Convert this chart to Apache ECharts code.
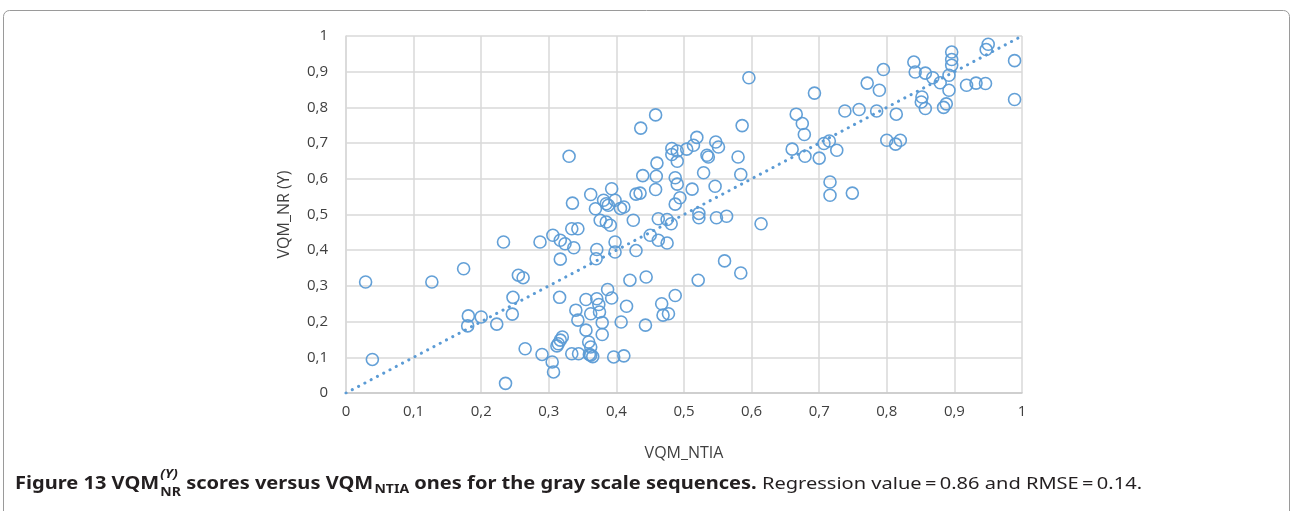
<!DOCTYPE html>
<html>
<head>
<meta charset="utf-8">
<script src="https://cdn.jsdelivr.net/npm/echarts@6/dist/echarts.min.js"></script>
<style>
  html, body { margin: 0; padding: 0; background: #ffffff; }
  #chart { width: 1294px; height: 511px; }
</style>
</head>
<body>
<div id="chart"></div>
<script>
// Tick labels (decimal comma)
const xTickLabels = ['0', '0,1', '0,2', '0,3', '0,4', '0,5', '0,6', '0,7', '0,8', '0,9', '1'];
const yTickLabels = ['0', '0,1', '0,2', '0,3', '0,4', '0,5', '0,6', '0,7', '0,8', '0,9', '1'];

// VQM_NTIA score of each gray scale sequence
const vqmNtia = [
  0.029, 0.039, 0.127, 0.174, 0.181, 0.180, 0.200, 0.223, 0.233, 0.236,
  0.247, 0.246, 0.255, 0.262, 0.265, 0.287, 0.290, 0.306, 0.305, 0.307,
  0.317, 0.324, 0.337, 0.317, 0.316, 0.320, 0.317, 0.314, 0.312, 0.334,
  0.343, 0.335, 0.330, 0.340, 0.343, 0.334, 0.344, 0.362, 0.369, 0.381,
  0.385, 0.388, 0.393, 0.398, 0.406, 0.411, 0.376, 0.385, 0.391, 0.425,
  0.371, 0.370, 0.398, 0.398, 0.429, 0.450, 0.462, 0.475, 0.462, 0.475,
  0.481, 0.522, 0.522, 0.548, 0.563, 0.614, 0.560, 0.584, 0.521, 0.420,
  0.444, 0.487, 0.467, 0.469, 0.477, 0.443, 0.415, 0.407, 0.396, 0.411,
  0.387, 0.393, 0.379, 0.379, 0.355, 0.371, 0.375, 0.362, 0.355, 0.359,
  0.362, 0.362, 0.365, 0.360, 0.374, 0.596, 0.458, 0.436, 0.586, 0.519,
  0.482, 0.490, 0.504, 0.514, 0.482, 0.490, 0.460, 0.547, 0.551, 0.534,
  0.536, 0.580, 0.584, 0.529, 0.546, 0.512, 0.487, 0.490, 0.459, 0.439,
  0.458, 0.494, 0.487, 0.435, 0.429, 0.666, 0.675, 0.678, 0.660, 0.679,
  0.693, 0.738, 0.759, 0.785, 0.814, 0.800, 0.813, 0.820, 0.707, 0.715,
  0.726, 0.700, 0.716, 0.716, 0.749, 0.771, 0.789, 0.795, 0.840, 0.842,
  0.857, 0.868, 0.879, 0.852, 0.851, 0.857, 0.884, 0.888, 0.892, 0.892,
  0.896, 0.896, 0.896, 0.918, 0.932, 0.946, 0.950, 0.947, 0.989, 0.989
];

// VQM_NR (Y) score of the same sequences
const vqmNr = [
  0.311, 0.094, 0.311, 0.348, 0.216, 0.188, 0.213, 0.193, 0.423, 0.027,
  0.268, 0.221, 0.330, 0.323, 0.124, 0.423, 0.108, 0.442, 0.087, 0.059,
  0.428, 0.418, 0.407, 0.375, 0.268, 0.157, 0.148, 0.138, 0.132, 0.460,
  0.460, 0.532, 0.663, 0.232, 0.204, 0.110, 0.110, 0.556, 0.516, 0.540,
  0.530, 0.526, 0.572, 0.540, 0.517, 0.521, 0.484, 0.479, 0.470, 0.484,
  0.402, 0.376, 0.423, 0.395, 0.399, 0.442, 0.428, 0.420, 0.488, 0.486,
  0.474, 0.503, 0.491, 0.491, 0.495, 0.474, 0.370, 0.336, 0.316, 0.316,
  0.325, 0.273, 0.250, 0.218, 0.222, 0.190, 0.243, 0.199, 0.101, 0.104,
  0.290, 0.266, 0.197, 0.164, 0.262, 0.264, 0.227, 0.222, 0.176, 0.143,
  0.129, 0.106, 0.102, 0.108, 0.248, 0.883, 0.779, 0.742, 0.749, 0.716,
  0.685, 0.678, 0.683, 0.694, 0.668, 0.649, 0.644, 0.703, 0.689, 0.666,
  0.661, 0.661, 0.612, 0.617, 0.579, 0.571, 0.603, 0.585, 0.607, 0.609,
  0.570, 0.547, 0.529, 0.560, 0.557, 0.781, 0.755, 0.724, 0.683, 0.663,
  0.840, 0.790, 0.794, 0.790, 0.781, 0.708, 0.697, 0.708, 0.699, 0.706,
  0.680, 0.658, 0.591, 0.554, 0.560, 0.868, 0.848, 0.906, 0.927, 0.899,
  0.896, 0.883, 0.869, 0.829, 0.815, 0.797, 0.800, 0.810, 0.890, 0.848,
  0.955, 0.934, 0.918, 0.862, 0.868, 0.867, 0.977, 0.962, 0.931, 0.822
];

// Linear trend line end points
const trendX = [0, 1];
const trendY = [0, 1];

const points = vqmNtia.map((x, i) => [x, vqmNr[i]]);
const trend = trendX.map((x, i) => [x, trendY[i]]);

const axisFont = '"Open Sans", "Noto Sans", sans-serif';
const labelColor = '#404040';
const gridColor = '#d9d9d9';
const markColor = '#5b9bd5';

// ---- Caption, laid out piece by piece with sub/superscripts ----
const capFont = '"Noto Sans", "Open Sans", sans-serif';
const capPieces = [
  { text: 'Figure 13 VQM', bold: true },
  { sup: '(Y)', sub: 'NR' },
  { text: ' scores versus VQM', bold: true },
  { sub: 'NTIA' },
  { text: ' ones for the gray scale sequences.', bold: true },
  { text: ' Regression value\u2009=\u20090.86 and RMSE\u2009=\u20090.14.', bold: false }
];
const measureCtx = document.createElement('canvas').getContext('2d');
function textWidth(str, size, bold, italic) {
  measureCtx.font = (italic ? 'italic ' : '') + (bold ? 'bold ' : '') + size + 'px ' + capFont;
  return measureCtx.measureText(str).width;
}
function captionElements(size) {
  const subSize = Math.round(size * 0.7 * 10) / 10;
  const els = [];
  let x = 0;
  capPieces.forEach(p => {
    if (p.text !== undefined) {
      els.push({ type: 'text', x: x, y: 0, silent: true, style: {
        text: p.text, fill: '#231f20', font: (p.bold ? 'bold ' : '') + size + 'px ' + capFont,
        verticalAlign: 'middle', align: 'left' } });
      x += textWidth(p.text, size, p.bold, false);
    } else {
      let w = 0;
      if (p.sup) {
        els.push({ type: 'text', x: x + 1, y: -9, silent: true, style: {
          text: p.sup, fill: '#231f20', font: 'italic bold ' + subSize + 'px ' + capFont,
          verticalAlign: 'middle', align: 'left' } });
        w = Math.max(w, textWidth(p.sup, subSize, true, true) + 1);
      }
      els.push({ type: 'text', x: x + 1, y: p.sup ? 9 : 6, silent: true, style: {
        text: p.sub, fill: '#231f20', font: 'bold ' + subSize + 'px ' + capFont,
        verticalAlign: 'middle', align: 'left' } });
      w = Math.max(w, textWidth(p.sub, subSize, true, false) + 1);
      x += w;
    }
  });
  return { els: els, width: x };
}
// a tall, condensed caption squeezed into the frame's text width
const capSize = 17;
const cap = captionElements(capSize);
const capScale = 1127 / cap.width;

const chart = echarts.init(document.getElementById('chart'), null, { renderer: 'canvas' });
chart.setOption({
  animation: false,
  backgroundColor: '#ffffff',
  grid: { left: 346, top: 36, width: 676, height: 357, containLabel: false },
  xAxis: {
    type: 'value', min: 0, max: 1, interval: 0.1,
    name: 'VQM_NTIA', nameLocation: 'middle', nameGap: 52,
    nameTextStyle: { color: labelColor, fontSize: 16, fontFamily: axisFont },
    axisLine: { show: true, lineStyle: { color: '#c9c9c9', width: 1.5 } },
    axisTick: { show: false },
    splitLine: { show: true, lineStyle: { color: gridColor, width: 1.5 } },
    axisLabel: { color: labelColor, fontSize: 15, fontFamily: axisFont, margin: 11,
      formatter: v => xTickLabels[Math.round(v * 10)] }
  },
  yAxis: {
    type: 'value', min: 0, max: 1, interval: 0.1,
    name: 'VQM_NR (Y)', nameLocation: 'middle', nameGap: 54,
    nameTextStyle: { color: labelColor, fontSize: 16, fontFamily: axisFont },
    axisLine: { show: true, lineStyle: { color: gridColor, width: 1.5 } },
    axisTick: { show: false },
    splitLine: { show: true, lineStyle: { color: gridColor, width: 1.5 } },
    axisLabel: { color: labelColor, fontSize: 15, fontFamily: axisFont, margin: 18,
      formatter: v => yTickLabels[Math.round(v * 10)] }
  },
  series: [
    {
      type: 'line', data: trend, symbol: 'none', silent: true, z: 2,
      lineStyle: { color: markColor, width: 3, type: [0.1, 7], cap: 'round' }
    },
    {
      type: 'scatter', data: points, symbol: 'circle', symbolSize: 12, silent: true, z: 3,
      itemStyle: { color: 'rgba(255,255,255,0)', borderColor: markColor, borderWidth: 1.6, opacity: 0.95 }
    }
  ],
  graphic: [
    { type: 'rect', silent: true, shape: { x: 3.5, y: 10.5, width: 1286, height: 520, r: 6 },
      style: { fill: 'none', stroke: '#9a9a9a', lineWidth: 1 } },
    { type: 'group', x: 15, y: 484, scaleX: capScale, scaleY: 1, silent: true, children: cap.els }
  ]
});
</script>
</body>
</html>
